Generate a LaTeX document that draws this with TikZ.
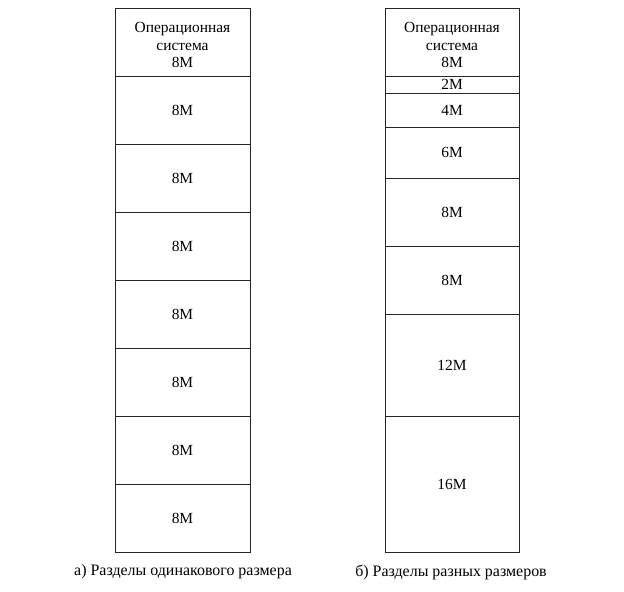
\documentclass[tikz,border=0pt]{standalone}
\usepackage{fontspec}
\setmainfont{Liberation Serif}
\begin{document}
\begin{tikzpicture}[x=1bp,y=-1bp,
  part/.style={draw=black!85, line width=0.9bp, rectangle, inner sep=0pt, align=center, font=\fontsize{15.5}{17.5}\selectfont},
  lcol/.style={part, minimum width=135bp},
  rcol/.style={part, minimum width=134bp},
  ostext/.style={inner sep=0pt, align=center, font=\fontsize{15.5}{17.5}\selectfont},
  capt/.style={font=\fontsize{16}{18}\selectfont, inner sep=0pt}]
\useasboundingbox (0,0) rectangle (624,592);
% left column
\node[lcol, minimum height=68bp] (l0) at (182.5,42) {};
\node[ostext] (l0t) at (182.5,45) {Операционная\\система\\8M};
\node[lcol, minimum height=68bp] (l1) at (182.5,110) {8M};
\node[lcol, minimum height=68bp] (l2) at (182.5,178) {8M};
\node[lcol, minimum height=68bp] (l3) at (182.5,246) {8M};
\node[lcol, minimum height=68bp] (l4) at (182.5,314) {8M};
\node[lcol, minimum height=68bp] (l5) at (182.5,382) {8M};
\node[lcol, minimum height=68bp] (l6) at (182.5,450) {8M};
\node[lcol, minimum height=68bp] (l7) at (182.5,518) {8M};
% right column
\node[rcol, minimum height=68bp] (r0) at (452,42) {};
\node[ostext] (r0t) at (452,45) {Операционная\\система\\8M};
\node[rcol, minimum height=17bp] (r1) at (452,84.5) {2M};
\node[rcol, minimum height=34bp] (r2) at (452,110) {4M};
\node[rcol, minimum height=51bp] (r3) at (452,152.5) {6M};
\node[rcol, minimum height=68bp] (r4) at (452,212) {8M};
\node[rcol, minimum height=68bp] (r5) at (452,280) {8M};
\node[rcol, minimum height=102bp] (r6) at (452,365) {12M};
\node[rcol, minimum height=136bp] (r7) at (452,484) {16M};
% captions
\node[capt] (ca) at (183,572) {а) Разделы одинакового размера};
\node[capt] (cb) at (451,572) {б) Разделы разных размеров};
\end{tikzpicture}
\end{document}
